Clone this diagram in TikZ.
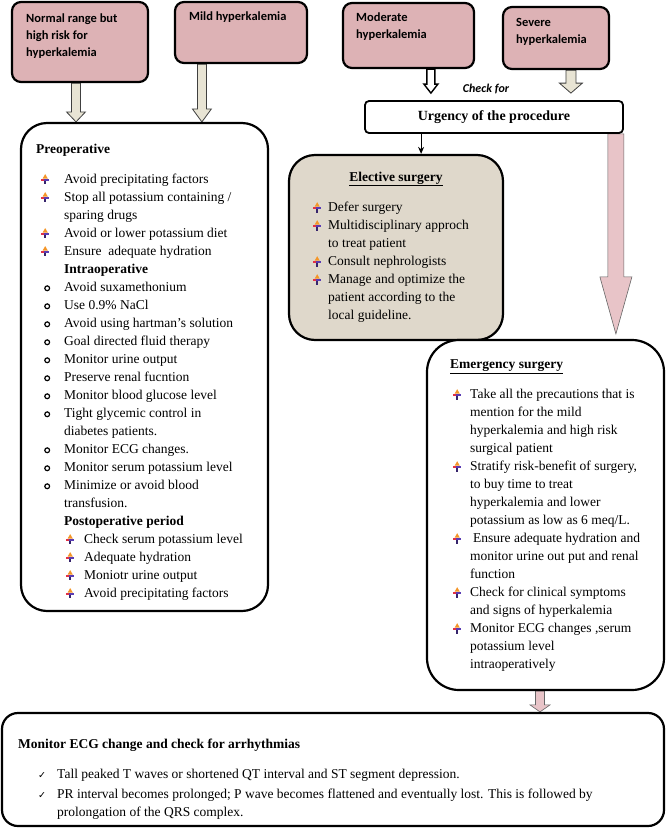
\documentclass[tikz,border=0pt]{standalone}
\usepackage{fontspec}
\setmainfont{Liberation Serif}
\newfontfamily\calfont{Carlito}
\newfontfamily\djv{DejaVu Sans}
\usetikzlibrary{calc,arrows.meta,backgrounds}
\definecolor{pinkbox}{RGB}{221,178,181}
\definecolor{beigebox}{RGB}{223,216,203}
\definecolor{beigearrow}{RGB}{232,228,212}
\definecolor{pinkarrow}{RGB}{232,196,200}
\definecolor{bulorange}{RGB}{245,150,40}
\definecolor{bulpurple}{RGB}{90,60,180}
\definecolor{bulred}{RGB}{225,50,70}
\newcommand\pbul{\tikz[baseline=0pt,x=1pt,y=1pt]{\fill[bulpurple!60!black] (3.2,-0.8) rectangle (4.8,4);\fill[bulpurple] (0.5,3) rectangle (8,5);\fill[bulred] (0,3) rectangle (3,5);\fill[bulorange] (4,9.5)--(1.4,5)--(6.6,5)--cycle;}}
\newcommand\obul{\tikz[baseline=0pt]{\draw[line width=1.2pt] (0,3.3pt) circle (2.4pt);}}
\newcommand\ckm{{\djv\fontsize{9.5}{9.5}\selectfont ✓}}
\newcommand\itm[3]{\hspace*{#1}\makebox[#2][l]{#3}}
\newcommand\blockarrow[6]{\path[#6] let \p1=(#1), \p2=(#2) in (\x1-#3,\y1) -- (\x1-#3,\y2+#5) -- (\x1-#4,\y2+#5) -- (\x1,\y2) -- (\x1+#4,\y2+#5) -- (\x1+#3,\y2+#5) -- (\x1+#3,\y1) -- cycle;}
\tikzset{
  pbox/.style={draw, line width=2.2pt, fill=pinkbox, rounded corners=9pt, inner sep=0pt},
  bigbox/.style={draw, line width=2.2pt, fill=white, inner sep=0pt},
  ptxt/.style={font=\calfont\bfseries\fontsize{12.5}{17}\selectfont, align=left, inner sep=0pt, anchor=north west},
  txt/.style={font=\fontsize{13.5}{18}\selectfont, align=left, inner sep=0pt, anchor=north west},
  beigeA/.style={fill=beigearrow, draw=black!75, line width=0.8pt},
  modA/.style={fill=white, draw=black, line width=1.4pt},
  pinkA/.style={fill=pinkarrow, draw=black!60, line width=0.6pt},
}
\begin{document}
\begin{tikzpicture}[x=1pt,y=-1pt]
\useasboundingbox (0,0) rectangle (667,828);
% top boxes
\node[pbox, minimum width=136pt, minimum height=80pt] (b1) at (80,42) {};
\node[pbox, minimum width=132pt, minimum height=61pt] (b2) at (241,32.5) {};
\node[pbox, minimum width=131pt, minimum height=65pt] (b3) at (408.5,35.5) {};
\node[pbox, minimum width=106pt, minimum height=62pt] (b4) at (556,38) {};
\node[ptxt] (t1) at (26,13.5) {Normal range but\\high risk for\\hyperkalemia};
\node[ptxt] (t2) at (189,11.5) {Mild hyperkalemia};
\node[ptxt] (t3) at (356,12.5) {Moderate\\hyperkalemia};
\node[ptxt] (t4) at (516,18.5) {Severe\\hyperkalemia};
% urgency
\node[draw, line width=1.8pt, fill=white, rounded corners=4pt, minimum width=258pt, minimum height=32pt, inner sep=0pt,
  font=\bfseries\fontsize{14}{16}\selectfont] (urg) at (494,117) {Urgency of the procedure};
\node[font=\calfont\bfseries\itshape\fontsize{12}{12}\selectfont, inner sep=0pt] (chk) at (486,89) {Check for};
% big boxes
\node[bigbox, rounded corners=26pt, minimum width=247pt, minimum height=488pt] (preop) at (144.5,367) {};
\node[bigbox, fill=beigebox, rounded corners=26pt, minimum width=214pt, minimum height=185pt] (elect) at (396,247.5) {};
\node[bigbox, rounded corners=32pt, minimum width=237pt, minimum height=350pt] (emerg) at (545.5,515) {};
\node[bigbox, rounded corners=16pt, minimum width=662pt, minimum height=113pt] (bot) at (333,769.5) {};
% arrows
\coordinate (a1s) at ($(b1.south)+(-4,0)$);
\coordinate (a1e) at (a1s |- preop.north);
\coordinate (a2s) at ($(b2.south west)+(28,0)$);
\coordinate (a2e) at (a2s |- preop.north);
\coordinate (a3s) at ($(b3.south west)+(89,0)$);
\coordinate (a3e) at ($(a3s |- urg.north)+(0,-7)$);
\coordinate (a4s) at ($(b4.south west)+(69,0)$);
\coordinate (a4e) at ($(a4s |- urg.north)+(0,-7)$);
\coordinate (a5s) at ($(urg.south west)+(57,0)$);
\coordinate (a5e) at (a5s |- elect.north);
\coordinate (a6s) at ($(urg.south east)+(-8,0)$);
\coordinate (a6e) at ($(a6s |- emerg.north)+(0,-5)$);
\coordinate (a7s) at ($(emerg.south)+(-5.5,0)$);
\coordinate (a7e) at (a7s |- bot.north);
\begin{scope}[on background layer]
\fill[white] (0,0) rectangle (667,828);
\blockarrow{a1s}{a1e}{4.5pt}{9.5pt}{10pt}{beigeA}
\blockarrow{a2s}{a2e}{4.5pt}{9.5pt}{13pt}{beigeA}
\blockarrow{a3s}{a3e}{4pt}{7pt}{9pt}{modA}
\blockarrow{a4s}{a4e}{5pt}{11.5pt}{10pt}{beigeA}
\blockarrow{a6s}{a6e}{8pt}{16pt}{57pt}{pinkA}
\blockarrow{a7s}{a7e}{4.5pt}{10pt}{7pt}{pinkA}
\end{scope}
\draw[line width=1pt, -{Stealth[length=7pt,width=6pt]}] (a5s) -- (a5e);
% preoperative text
\node[txt] (preoptxt) at (36,144) {%
\textbf{Preoperative}\\[12pt]
\itm{5pt}{23pt}{\pbul}Avoid precipitating factors\\
\itm{5pt}{23pt}{\pbul}Stop all potassium containing /\\
\hspace*{28pt}sparing drugs\\
\itm{5pt}{23pt}{\pbul}Avoid or lower potassium diet\\
\itm{5pt}{23pt}{\pbul}Ensure\ \ adequate hydration\\
\hspace*{28pt}\textbf{Intraoperative}\\
\itm{8pt}{20pt}{\obul}Avoid suxamethonium\\
\itm{8pt}{20pt}{\obul}Use 0.9\% NaCl\\
\itm{8pt}{20pt}{\obul}Avoid using hartman’s solution\\
\itm{8pt}{20pt}{\obul}Goal directed fluid therapy\\
\itm{8pt}{20pt}{\obul}Monitor urine output\\
\itm{8pt}{20pt}{\obul}Preserve renal fucntion\\
\itm{8pt}{20pt}{\obul}Monitor blood glucose level\\
\itm{8pt}{20pt}{\obul}Tight glycemic control in\\
\hspace*{28pt}diabetes patients.\\
\itm{8pt}{20pt}{\obul}Monitor ECG changes.\\
\itm{8pt}{20pt}{\obul}Monitor serum potassium level\\
\itm{8pt}{20pt}{\obul}Minimize or avoid blood\\
\hspace*{28pt}transfusion.\\
\hspace*{28pt}\textbf{Postoperative period}\\
\itm{30pt}{18pt}{\pbul}Check serum potassium level\\
\itm{30pt}{18pt}{\pbul}Adequate hydration\\
\itm{30pt}{18pt}{\pbul}Moniotr urine output\\
\itm{30pt}{18pt}{\pbul}Avoid precipitating factors};
% elective text
\node[font=\bfseries\fontsize{13.5}{18}\selectfont, inner sep=0pt] (elhead) at (396,179) {\underline{Elective surgery}};
\node[txt] (eltxt) at (313,202) {%
\itm{0pt}{15pt}{\pbul}Defer surgery\\
\itm{0pt}{15pt}{\pbul}Multidisciplinary approch\\
\hspace*{15pt}to treat patient\\
\itm{0pt}{15pt}{\pbul}Consult nephrologists\\
\itm{0pt}{15pt}{\pbul}Manage and optimize the\\
\hspace*{15pt}patient according to the\\
\hspace*{15pt}local guideline.};
% emergency text
\node[font=\bfseries\fontsize{13.5}{18}\selectfont, inner sep=0pt, anchor=west] (emhead) at (450,367) {\underline{Emergency surgery}};
\node[txt] (emtxt) at (453,389) {%
\itm{0pt}{17pt}{\pbul}Take all the precautions that is\\
\hspace*{17pt}mention for the mild\\
\hspace*{17pt}hyperkalemia and high risk\\
\hspace*{17pt}surgical patient\\
\itm{0pt}{17pt}{\pbul}Stratify risk-benefit of surgery,\\
\hspace*{17pt}to buy time to treat\\
\hspace*{17pt}hyperkalemia and lower\\
\hspace*{17pt}potassium as low as 6 meq/L.\\
\itm{0pt}{17pt}{\pbul}\hspace*{3pt}Ensure adequate hydration and\\
\hspace*{17pt}monitor urine out put and renal\\
\hspace*{17pt}function\\
\itm{0pt}{17pt}{\pbul}Check for clinical symptoms\\
\hspace*{17pt}and signs of hyperkalemia\\
\itm{0pt}{17pt}{\pbul}Monitor ECG changes ,serum\\
\hspace*{17pt}potassium level\\
\hspace*{17pt}intraoperatively};
% bottom text
\node[font=\bfseries\fontsize{13.5}{18}\selectfont, inner sep=0pt, anchor=west] (bothead) at (18,745) {Monitor ECG change and check for arrhythmias};
\node[txt] (bottxt) at (38,769) {%
\itm{0pt}{19pt}{\ckm}Tall peaked T waves or shortened QT interval and ST segment depression.\\[2pt]
\itm{0pt}{19pt}{\ckm}PR interval becomes prolonged; P wave becomes flattened and eventually lost. This is followed by\\
\hspace*{19pt}prolongation of the QRS complex.};
\end{tikzpicture}
\end{document}
